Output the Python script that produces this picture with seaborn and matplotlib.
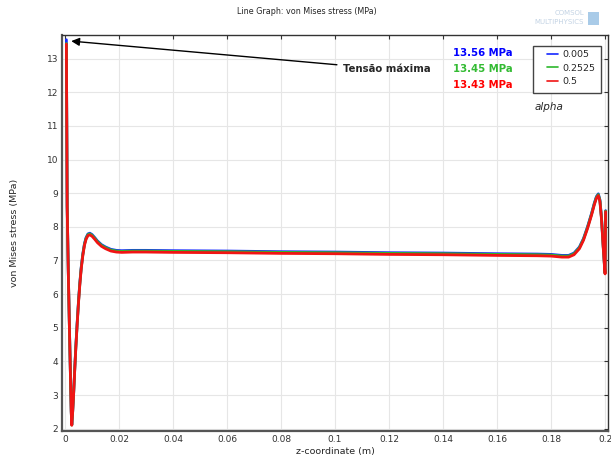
import pandas as pd
import matplotlib
matplotlib.use("Agg")
import matplotlib.pyplot as plt
from matplotlib.patches import Rectangle
import seaborn as sns

# z-coordinate (m) along the line
z = [0.0005, 0.0008, 0.0012, 0.0016, 0.0020, 0.0023, 0.0025, 0.0028, 0.0032, 0.0036,
     0.0040, 0.0045, 0.0050, 0.0055, 0.0060, 0.0066, 0.0072, 0.0078, 0.0085, 0.0092,
     0.0100, 0.0110, 0.0120, 0.0135, 0.0150, 0.0170, 0.0190, 0.0210, 0.0250, 0.0300,
     0.0400, 0.0600, 0.0800, 0.1000, 0.1200, 0.1400, 0.1600, 0.1750, 0.1800, 0.1840,
     0.1865, 0.1885, 0.1905, 0.1920, 0.1935, 0.1950, 0.1960, 0.1968, 0.1975, 0.1981,
     0.1987, 0.1993, 0.1998, 0.2000, 0.2002]

# von Mises stress (MPa) for each alpha
stress_0005 = [13.56, 8.62, 6.72, 5.12, 3.62, 2.52, 2.12, 2.47, 3.08, 3.79,
               4.44, 5.15, 5.80, 6.35, 6.80, 7.20, 7.50, 7.68, 7.79, 7.81,
               7.77, 7.68, 7.58, 7.47, 7.40, 7.33, 7.30, 7.29, 7.30, 7.30,
               7.29, 7.28, 7.26, 7.25, 7.23, 7.22, 7.20, 7.19, 7.18, 7.15,
               7.15, 7.22, 7.40, 7.65, 8.00, 8.40, 8.70, 8.90, 8.98, 8.80,
               8.25, 7.45, 6.84, 6.63, 8.48]
stress_02525 = [13.45, 8.61, 6.71, 5.11, 3.61, 2.51, 2.11, 2.46, 3.07, 3.77,
                4.42, 5.13, 5.78, 6.33, 6.78, 7.18, 7.48, 7.66, 7.77, 7.79,
                7.75, 7.66, 7.56, 7.45, 7.38, 7.31, 7.28, 7.27, 7.28, 7.28,
                7.27, 7.26, 7.24, 7.23, 7.21, 7.20, 7.18, 7.17, 7.16, 7.13,
                7.13, 7.20, 7.38, 7.63, 7.98, 8.38, 8.68, 8.88, 8.96, 8.78,
                8.23, 7.43, 6.82, 6.62, 8.47]
stress_05 = [13.43, 8.60, 6.70, 5.10, 3.60, 2.50, 2.10, 2.45, 3.05, 3.75,
             4.40, 5.10, 5.75, 6.30, 6.75, 7.15, 7.45, 7.63, 7.74, 7.76,
             7.72, 7.63, 7.53, 7.42, 7.35, 7.28, 7.25, 7.24, 7.25, 7.25,
             7.24, 7.23, 7.21, 7.20, 7.18, 7.17, 7.15, 7.14, 7.13, 7.10,
             7.10, 7.17, 7.35, 7.60, 7.95, 8.35, 8.65, 8.85, 8.93, 8.75,
             8.20, 7.40, 6.80, 6.60, 8.45]

alphas = ["0.005", "0.2525", "0.5"]
max_labels = ["13.56 MPa", "13.45 MPa", "13.43 MPa"]
colors = ["#1428ff", "#2cb82c", "#f01414"]
text_colors = ["#0000ff", "#33bb33", "#ff0000"]

df = pd.concat([
    pd.DataFrame({"z": z, "stress": s, "alpha": a})
    for s, a in zip([stress_0005, stress_02525, stress_05], alphas)
], ignore_index=True)

sns.set_style("white")
plt.rcParams['font.family'] = ['DejaVu Sans']

fig = plt.figure(figsize=(6.11, 4.61), dpi=100)
ax = fig.add_axes([0.102, 0.065, 0.8936, 0.8597])

sns.lineplot(data=df, x="z", y="stress", hue="alpha", hue_order=alphas,
             palette=colors, linewidth=2, estimator=None, sort=False, ax=ax)

ax.set_xlim(-0.001, 0.2012)
ax.set_ylim(1.93, 13.71)
xt = [0, 0.02, 0.04, 0.06, 0.08, 0.1, 0.12, 0.14, 0.16, 0.18, 0.2]
ax.set_xticks(xt)
ax.set_xticklabels(["0", "0.02", "0.04", "0.06", "0.08", "0.1", "0.12", "0.14", "0.16", "0.18", "0.2"])
ax.set_yticks(range(2, 14))
ax.tick_params(direction="in", length=3, width=0.8, top=True, right=True,
               labelsize=6.5, colors="#333333", pad=3)
ax.grid(True, color="#e6e6e6", linewidth=0.8)
ax.set_axisbelow(True)
for side in ["left", "bottom"]:
    ax.spines[side].set_color("#555555")
    ax.spines[side].set_linewidth(1.6)
for side in ["top", "right"]:
    ax.spines[side].set_color("#333333")
    ax.spines[side].set_linewidth(1.0)

ax.set_xlabel("z-coordinate (m)", fontsize=6.8, labelpad=2)
ax.set_ylabel("von Mises stress (MPa)", fontsize=6.8, labelpad=20)
fig.text(0.503, 0.974, "Line Graph: von Mises stress (MPa)", ha="center", va="center", fontsize=5.8)

# logo
fig.text(0.932, 0.972, "COMSOL", ha="center", va="center", fontsize=5, color="#c3d3e4")
fig.text(0.915, 0.952, "MULTIPHYSICS", ha="center", va="center", fontsize=5, color="#c3d3e4")
fig.patches.append(Rectangle((0.963, 0.945), 0.018, 0.03, transform=fig.transFigure,
                             facecolor="#a9cbe8", edgecolor="none"))

# legend box and entries
ax.add_patch(Rectangle((533 / 611, 1 - 93.3 / 461), 68 / 611, 47.6 / 461,
                       transform=fig.transFigure, facecolor="white",
                       edgecolor="#444444", linewidth=1.0, zorder=4, clip_on=False))
handles, labels = ax.get_legend_handles_labels()
leg = ax.legend(handles, labels, loc="upper left",
                bbox_to_anchor=(547 / 611, 1 - 50.0 / 461),
                bbox_transform=fig.transFigure,
                fontsize=6.8, frameon=False, borderpad=0, borderaxespad=0,
                handlelength=1.2, labelspacing=0.48, handletextpad=0.45)
leg.set_zorder(6)
for ln in leg.get_lines():
    ln.set_linewidth(1.2)
ax.text(0.891, 0.818, "alpha", transform=ax.transAxes, ha="center", va="center",
        fontsize=7.5, style="italic")

# max value labels
for lab, c, yy in zip(max_labels, text_colors, [0.954, 0.913, 0.873]):
    ax.text(0.770, yy, lab, transform=ax.transAxes, ha="center", va="center",
            fontsize=7.3, fontweight="bold", color=c)

ax.annotate("Tensão máxima", xy=(0.0023, 13.52), xytext=(0.514, 0.913),
            textcoords="axes fraction", ha="left", va="center",
            fontsize=7.3, fontweight="bold",
            arrowprops=dict(arrowstyle="-|>", color="black", lw=1.0,
                            mutation_scale=12, shrinkA=2, shrinkB=0))

fig.savefig("out.png", dpi=100)
